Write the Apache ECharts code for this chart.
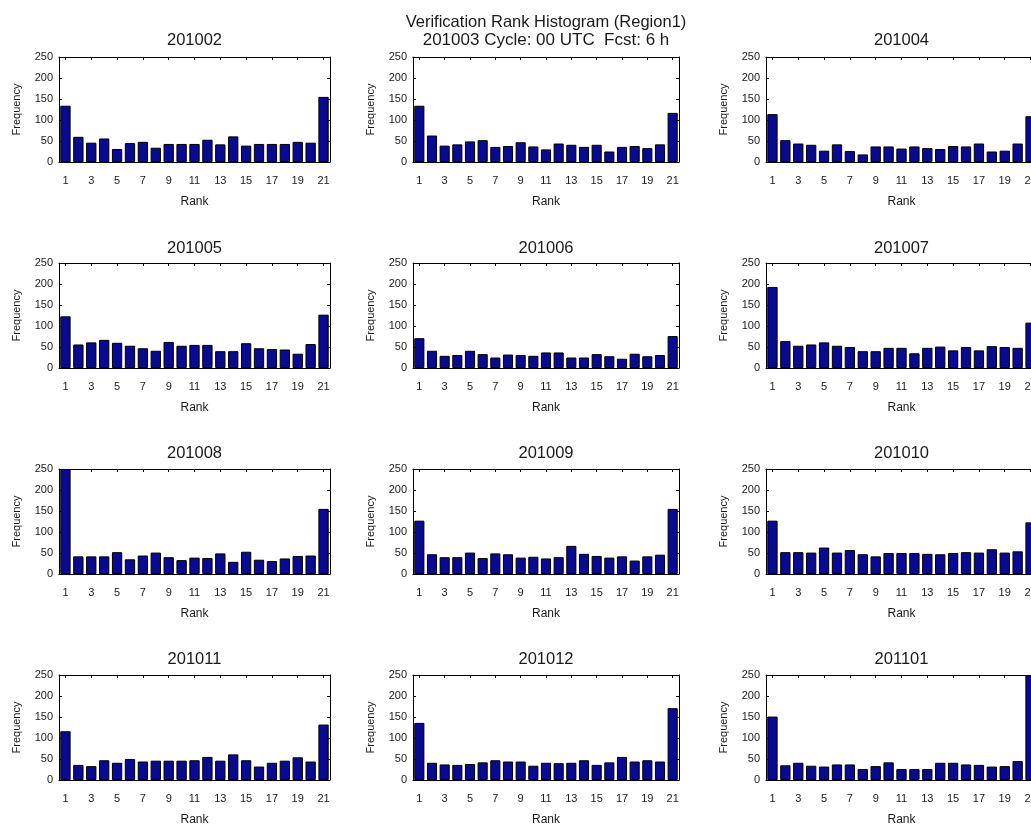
<!DOCTYPE html>
<html>
<head>
<meta charset="utf-8">
<script src="https://cdn.jsdelivr.net/npm/echarts@6/dist/echarts.min.js"></script>
<style>
  html, body { margin: 0; padding: 0; background: #ffffff; }
  #chart { width: 1031px; height: 829px; }
</style>
</head>
<body>
<div id="chart"></div>
<script>
// Rank bins of the 20-member ensemble (21 possible ranks)
const ranks = ['1','2','3','4','5','6','7','8','9','10','11','12','13','14','15','16','17','18','19','20','21'];
const months = ['201002','201003','201004','201005','201006','201007','201008','201009','201010','201011','201012','201101'];
const yTicks = { min: 0, max: 250, step: 50 };

// Monthly rank frequencies
const f201002 = [134, 60, 46, 56, 31, 45, 48, 34, 43, 43, 43, 53, 42, 61, 39, 43, 43, 43, 48, 46, 155];
const f201003 = [134, 63, 39, 42, 49, 52, 36, 38, 47, 37, 30, 44, 41, 36, 41, 25, 36, 38, 33, 42, 117];
const f201004 = [114, 52, 44, 41, 27, 42, 26, 18, 37, 37, 32, 37, 33, 31, 38, 37, 44, 25, 27, 44, 109];
const f201005 = [123, 56, 61, 67, 60, 53, 47, 41, 62, 53, 55, 55, 40, 40, 59, 47, 45, 44, 34, 57, 127];
const f201006 = [71, 41, 29, 31, 41, 33, 25, 32, 31, 29, 37, 37, 25, 25, 33, 28, 22, 34, 28, 31, 76];
const f201007 = [193, 64, 53, 56, 61, 53, 50, 40, 40, 48, 48, 35, 48, 51, 42, 50, 42, 52, 50, 48, 108];
const f201008 = [250, 42, 42, 42, 52, 35, 44, 51, 40, 33, 39, 38, 49, 29, 53, 34, 31, 37, 43, 44, 155];
const f201009 = [127, 47, 40, 40, 51, 38, 49, 47, 39, 41, 37, 40, 67, 48, 43, 39, 42, 32, 42, 46, 155];
const f201010 = [127, 52, 52, 51, 63, 51, 57, 47, 42, 50, 50, 50, 48, 47, 50, 52, 51, 59, 51, 54, 123];
const f201011 = [116, 36, 33, 47, 41, 50, 44, 46, 46, 46, 47, 55, 46, 61, 47, 32, 41, 46, 54, 44, 132];
const f201012 = [136, 41, 37, 36, 38, 42, 47, 44, 44, 34, 41, 40, 41, 47, 36, 42, 55, 44, 47, 44, 171];
const f201101 = [151, 35, 41, 34, 32, 37, 37, 26, 33, 42, 26, 26, 26, 41, 41, 37, 36, 32, 33, 45, 250];

const monthValues = [f201002, f201003, f201004, f201005, f201006, f201007,
                     f201008, f201009, f201010, f201011, f201012, f201101];

const FONT = "'Liberation Sans', Arial, Helvetica, sans-serif";
const TEXT = '#1a1a1a';
const BAR_FILL = '#0a0a8f';

// panel placement (3 columns x 4 rows); the third column runs past the right edge
const colLeft = [59, 413, 766];
const colWidth = [271, 266, 271];
const rowTop = [57, 263, 469, 675];
const panelHeight = 105;
const titleY = [39, 247, 452, 658];

const grids = [], xAxes = [], yAxes = [], series = [], titles = [];

titles.push({
  text: 'Verification Rank Histogram (Region1)',
  left: colLeft[1] + colWidth[1] / 2,
  top: 21 - 7,
  textAlign: 'center',
  padding: 0,
  textStyle: { fontFamily: FONT, fontSize: 16.5, fontWeight: 'normal', color: TEXT }
});

months.forEach((m, i) => {
  const r = Math.floor(i / 3), c = i % 3;
  grids.push({
    left: colLeft[c], top: rowTop[r], width: colWidth[c], height: panelHeight,
    containLabel: false, outerBoundsMode: 'none'
  });

  const isHeader = i === 1;
  titles.push({
    text: isHeader ? m + ' Cycle: 00 UTC  Fcst: 6 h' : m,
    left: colLeft[c] + colWidth[c] / 2,
    top: titleY[r] - (isHeader ? 7.5 : 7),
    textAlign: 'center',
    padding: 0,
    textStyle: { fontFamily: FONT, fontSize: isHeader ? 17 : 16.5, fontWeight: 'normal', color: TEXT }
  });

  const axisLine = { show: true, onZero: false, lineStyle: { color: '#000', width: 1 } };
  // bottom rank axis
  xAxes.push({
    type: 'category', gridIndex: i, data: ranks, position: 'bottom',
    boundaryGap: true,
    axisLine: axisLine,
    axisTick: { show: true, inside: true, length: 3, interval: 1, alignWithLabel: true, lineStyle: { color: '#000' } },
    axisLabel: { interval: 1, margin: 13, fontFamily: FONT, fontSize: 11, color: TEXT },
    name: 'Rank', nameLocation: 'middle', nameGap: 34,
    nameTextStyle: { fontFamily: FONT, fontSize: 12, color: TEXT },
    splitLine: { show: false }
  });
  // top frame edge with ticks
  xAxes.push({
    type: 'category', gridIndex: i, data: ranks, position: 'top',
    boundaryGap: true,
    axisLine: axisLine,
    axisTick: { show: true, inside: true, length: 3, interval: 1, alignWithLabel: true, lineStyle: { color: '#000' } },
    axisLabel: { show: false },
    splitLine: { show: false }
  });
  // left frequency axis
  yAxes.push({
    type: 'value', gridIndex: i, position: 'left',
    min: yTicks.min, max: yTicks.max, interval: yTicks.step,
    axisLine: axisLine,
    axisTick: { show: true, inside: true, length: 3, lineStyle: { color: '#000' } },
    axisLabel: { margin: 6, fontFamily: FONT, fontSize: 11, color: TEXT },
    name: 'Frequency', nameLocation: 'middle', nameGap: 37, nameRotate: 90,
    nameTextStyle: { fontFamily: FONT, fontSize: 11, color: TEXT },
    splitLine: { show: false }
  });
  // right frame edge with ticks
  yAxes.push({
    type: 'value', gridIndex: i, position: 'right',
    min: yTicks.min, max: yTicks.max, interval: yTicks.step,
    axisLine: axisLine,
    axisTick: { show: true, inside: true, length: 3, lineStyle: { color: '#000' } },
    axisLabel: { show: false },
    splitLine: { show: false }
  });

  series.push({
    type: 'bar', name: m,
    xAxisIndex: 2 * i, yAxisIndex: 2 * i,
    data: monthValues[i],
    barCategoryGap: '20%',
    clip: true,
    silent: true,
    itemStyle: { color: BAR_FILL, borderColor: '#000', borderWidth: 1 }
  });
});

const chart = echarts.init(document.getElementById('chart'), null, { renderer: 'canvas' });
chart.setOption({
  backgroundColor: '#ffffff',
  animation: false,
  title: titles,
  grid: grids,
  xAxis: xAxes,
  yAxis: yAxes,
  series: series
});
</script>
</body>
</html>
